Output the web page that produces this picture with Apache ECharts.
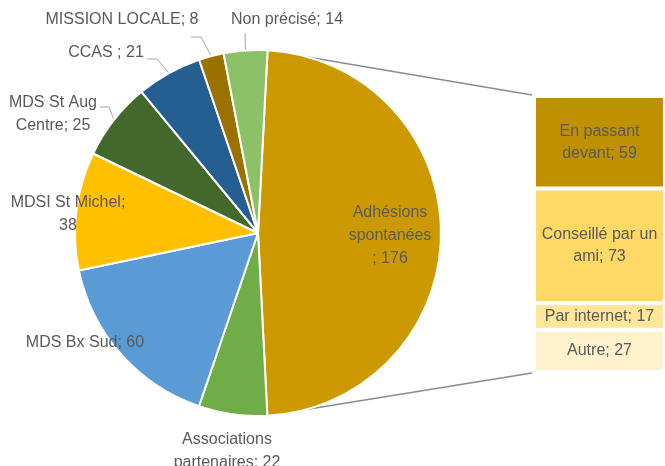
<!DOCTYPE html>
<html>
<head>
<meta charset="utf-8">
<script src="https://cdn.jsdelivr.net/npm/echarts@6/dist/echarts.min.js"></script>
<style>
  html, body { margin: 0; padding: 0; background: #fff; }
  #chart { width: 665px; height: 466px; }
</style>
</head>
<body>
<div id="chart"></div>
<script>
// pie slices (clockwise from the top)
const pieNames = ['Adhésions\nspontanées\n', 'Associations\npartenaires', 'MDS Bx Sud', 'MDSI St Michel;\n', 'MDS St Aug\nCentre', 'CCAS ', 'MISSION LOCALE', 'Non précisé']
const pieValues = [176, 22, 60, 38, 25, 21, 8, 14]
const pieColors = ['#CC9A00', '#70AD47', '#5B9BD5', '#FFC000', '#43682B', '#255E91', '#9B7200', '#8CC168']

// breakdown of "Adhésions spontanées"
const barNames = ['En passant\ndevant', 'Conseillé par un\nami', 'Par internet', 'Autre']
const barValues = [59, 73, 17, 27]
const barColors = ['#BF9000', '#FFD966', '#FFE699', '#FFF2CC']

// label anchors (centre of text block) and leader line elbows
const labelPos = [
  [390, 236], [227, 451], [85, 343], [68, 214], [53, 114], [106, 53], [122, 20], [287, 20]
]
const leaderLines = {
  4: [[109, 107], [100, 107]],
  5: [[157, 59], [147, 59]],
  6: [[201, 37], [191, 37]],
  7: [[245, 33]]
}

const textColor = '#595959'
const fontFamily = 'Liberation Sans, Arial, sans-serif'

const chart = echarts.init(document.getElementById('chart'))

const option = {
  animation: false,
  textStyle: { fontFamily },
  grid: { left: 534, top: 96, width: 132, height: 276 },
  xAxis: { type: 'category', data: [''], show: false },
  yAxis: { type: 'value', min: 0, max: 176, inverse: true, show: false },
  series: [
    {
      type: 'pie',
      z: 3,
      center: [258, 233],
      radius: 183,
      startAngle: 87,
      clockwise: true,
      itemStyle: { borderColor: '#fff', borderWidth: 2 },
      label: {
        show: true,
        position: 'outside',
        overflow: 'none',
        color: textColor,
        fontSize: 16,
        lineHeight: 23,
        formatter: p => p.name.endsWith('\n') ? p.name + (p.name.startsWith('Adh') ? '; ' : '') + p.value : p.name + '; ' + p.value
      },
      labelLine: { show: true, lineStyle: { color: '#a6a6a6', width: 1 } },
      labelLayout: (params) => {
        const i = params.dataIndex
        const res = { x: labelPos[i][0], y: labelPos[i][1], align: 'center', verticalAlign: 'middle' }
        if (leaderLines[i]) {
          const lay = chart.getModel().getSeriesByIndex(0).getData().getItemLayout(i)
          const mid = (lay.startAngle + lay.endAngle) / 2
          const arc = [lay.cx + lay.r * Math.cos(mid), lay.cy + lay.r * Math.sin(mid)]
          res.labelLinePoints = [arc].concat(leaderLines[i])
        }
        return res
      },
      data: pieNames.map((n, i) => ({
        name: n,
        value: pieValues[i],
        itemStyle: { color: pieColors[i] },
        labelLine: { show: !!leaderLines[i] }
      }))
    }
  ].concat(barNames.map((n, i) => ({
    type: 'bar',
    name: n,
    stack: 'adh',
    barWidth: '100%',
    data: [barValues[i]],
    itemStyle: { color: barColors[i], borderColor: '#fff', borderWidth: 2 },
    label: {
      show: true,
      position: 'inside',
      color: textColor,
      fontSize: 16,
      lineHeight: 22,
      formatter: p => p.seriesName + '; ' + p.value
    }
  })))
}

chart.setOption(option)

// connector lines from the split slice to the bar
const adhLayout = chart.getModel().getSeriesByIndex(0).getData().getItemLayout(0)
const rect = chart.getModel().getComponent('grid', 0).coordinateSystem.getRect()
const arcPt = a => [adhLayout.cx + adhLayout.r * Math.cos(a), adhLayout.cy + adhLayout.r * Math.sin(a)]
const p1 = arcPt(adhLayout.startAngle)
const p2 = arcPt(adhLayout.endAngle)
chart.setOption({
  graphic: [
    { type: 'line', z: 0, shape: { x1: p1[0], y1: p1[1], x2: rect.x - 2, y2: rect.y - 1 }, style: { stroke: '#8c8c8c', lineWidth: 1.5 } },
    { type: 'line', z: 0, shape: { x1: p2[0], y1: p2[1], x2: rect.x - 2, y2: rect.y + rect.height + 1 }, style: { stroke: '#8c8c8c', lineWidth: 1.5 } }
  ]
})
</script>
</body>
</html>
